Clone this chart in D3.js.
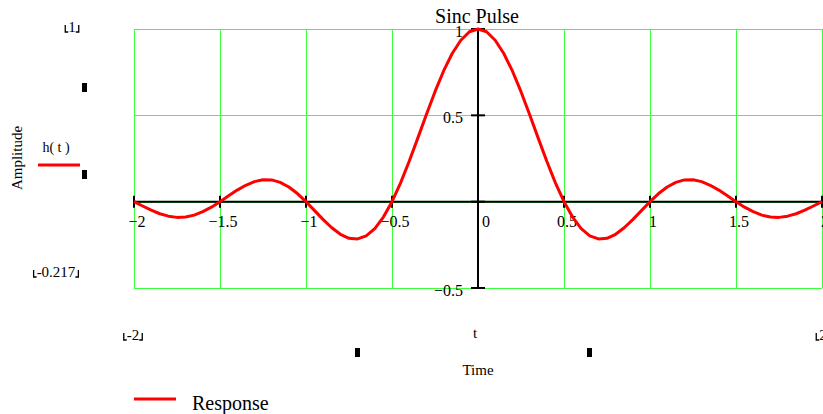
<!DOCTYPE html>
<html>
<head>
<meta charset="utf-8">
<script src="https://cdn.jsdelivr.net/npm/d3@7"></script>
<style>
  html, body { margin: 0; padding: 0; background: #fff; }
  svg { display: block; }
  text { font-family: "Liberation Serif", "Times New Roman", serif; fill: #000; }
</style>
</head>
<body>
<svg id="chart" width="823" height="414"></svg>
<script>
// Sampled response h(t) of the sinc pulse
const times = [
  -2, -1.95, -1.9, -1.85, -1.8, -1.75, -1.7, -1.65, -1.6, -1.55,
  -1.5, -1.45, -1.4, -1.35, -1.3, -1.25, -1.2, -1.15, -1.1, -1.05,
  -1, -0.95, -0.9, -0.85, -0.8, -0.75, -0.7, -0.65, -0.6, -0.55,
  -0.5, -0.45, -0.4, -0.35, -0.3, -0.25, -0.2, -0.15, -0.1, -0.05,
  0,
  0.05, 0.1, 0.15, 0.2, 0.25, 0.3, 0.35, 0.4, 0.45, 0.5,
  0.55, 0.6, 0.65, 0.7, 0.75, 0.8, 0.85, 0.9, 0.95, 1,
  1.05, 1.1, 1.15, 1.2, 1.25, 1.3, 1.35, 1.4, 1.45, 1.5,
  1.55, 1.6, 1.65, 1.7, 1.75, 1.8, 1.85, 1.9, 1.95, 2
];
const response = [
  0, -0.025, -0.049, -0.070, -0.084, -0.091, -0.089, -0.078, -0.058, -0.032,
  0, 0.034, 0.067, 0.095, 0.116, 0.127, 0.126, 0.112, 0.085, 0.047,
  0, -0.052, -0.104, -0.151, -0.189, -0.212, -0.216, -0.198, -0.156, -0.089,
  0, 0.109, 0.234, 0.368, 0.505, 0.637, 0.757, 0.858, 0.935, 0.984,
  1,
  0.984, 0.935, 0.858, 0.757, 0.637, 0.505, 0.368, 0.234, 0.109, 0,
  -0.089, -0.156, -0.198, -0.216, -0.212, -0.189, -0.151, -0.104, -0.052, 0,
  0.047, 0.085, 0.112, 0.126, 0.127, 0.116, 0.095, 0.067, 0.034, 0,
  -0.032, -0.058, -0.078, -0.089, -0.091, -0.084, -0.070, -0.049, -0.025, 0
];

const xTicks = [-2, -1.5, -1, -0.5, 0, 0.5, 1, 1.5, 2];
const xTickLabels = ["\u22122", "\u22121.5", "\u22121", "\u22120.5", "0", "0.5", "1", "1.5", "2"];
const yTicks = [-0.5, 0, 0.5, 1];
const yTickLabels = ["\u22120.5", "", "0.5", "1"];

const title = "Sinc Pulse";
const yTitle = "Amplitude";
const xTitle = "Time";
const traceName = "h( t )";
const xVar = "t";
const legendLabel = "Response";
const yRangeLabels = ["1", "-0.217"];
const xRangeLabels = ["-2", "2"];

const svg = d3.select("#chart");
const x = d3.scaleLinear().domain([-2, 2]).range([134, 822]);
const y = d3.scaleLinear().domain([-0.5, 1]).range([288, 29]);

const green = "#3bff3b";
const red = "#ff0000";

// grid
const grid = svg.append("g").attr("shape-rendering", "crispEdges");
grid.selectAll("line.vx").data(xTicks).join("line")
  .attr("x1", d => Math.round(x(d)) + 0.5).attr("x2", d => Math.round(x(d)) + 0.5)
  .attr("y1", y(1)).attr("y2", y(-0.5))
  .attr("stroke", green).attr("stroke-width", 1);
grid.selectAll("line.hy").data(yTicks).join("line")
  .attr("y1", d => Math.round(y(d)) + 0.5).attr("y2", d => Math.round(y(d)) + 0.5)
  .attr("x1", x(-2)).attr("x2", x(2))
  .attr("stroke", green).attr("stroke-width", 1);

// axes through the origin
const axes = svg.append("g");
axes.append("line")
  .attr("x1", x(-2)).attr("x2", x(2)).attr("y1", y(0)).attr("y2", y(0))
  .attr("stroke", "#000").attr("stroke-width", 2);
axes.append("line")
  .attr("x1", x(0)).attr("x2", x(0)).attr("y1", y(1)).attr("y2", y(-0.5))
  .attr("stroke", "#000").attr("stroke-width", 2);
axes.selectAll("line.tx").data(xTicks).join("line")
  .attr("x1", d => x(d)).attr("x2", d => x(d))
  .attr("y1", y(0) - 6).attr("y2", y(0) + 6)
  .attr("stroke", "#000").attr("stroke-width", 2);
axes.selectAll("line.ty").data(yTicks).join("line")
  .attr("x1", x(0) - 7).attr("x2", x(0) + 7)
  .attr("y1", d => y(d)).attr("y2", d => y(d))
  .attr("stroke", "#000").attr("stroke-width", 2);

// tick labels
axes.selectAll("text.xl").data(xTicks).join("text")
  .attr("x", d => x(d) + (d === 0 ? 8 : 3))
  .attr("y", y(0) + 25)
  .attr("text-anchor", "middle")
  .attr("font-size", 16)
  .text((d, i) => xTickLabels[i]);
axes.selectAll("text.yl").data(yTicks).join("text")
  .attr("x", x(0) - 15)
  .attr("y", d => y(d) + 8)
  .attr("text-anchor", "end")
  .attr("font-size", 16)
  .text((d, i) => yTickLabels[i]);

// trace
const line = d3.line().x((d, i) => x(times[i])).y(d => y(d));
svg.append("path")
  .datum(response)
  .attr("d", line)
  .attr("fill", "none")
  .attr("stroke", red)
  .attr("stroke-width", 3)
  .attr("stroke-linejoin", "round");

// title
svg.append("text").attr("x", 477).attr("y", 23).attr("text-anchor", "middle")
  .attr("font-size", 20).text(title);

// y-axis side annotations
svg.append("text").attr("transform", "translate(22,158) rotate(-90)")
  .attr("text-anchor", "middle").attr("font-size", 15).text(yTitle);
svg.append("text").attr("x", 56).attr("y", 152).attr("text-anchor", "middle")
  .attr("font-size", 14).text(traceName);
svg.append("line").attr("x1", 38).attr("x2", 80).attr("y1", 165).attr("y2", 165)
  .attr("stroke", red).attr("stroke-width", 3);

// bracketed range labels
function bracketed(cx, baseline, str, size) {
  const t = svg.append("text").attr("x", cx).attr("y", baseline)
    .attr("text-anchor", "middle").attr("font-size", size).text(str);
  const w = t.node().getComputedTextLength();
  const l = cx - w / 2 - 3, r = cx + w / 2 + 3;
  const top = baseline - 7, bot = baseline;
  svg.append("path")
    .attr("d", `M${l},${top}V${bot}H${l + 3}M${r},${top}V${bot}H${r - 3}`)
    .attr("fill", "none").attr("stroke", "#000").attr("stroke-width", 1.3);
}
bracketed(72, 32, yRangeLabels[0], 15);
bracketed(56, 277, yRangeLabels[1], 15);
bracketed(133, 340, xRangeLabels[0], 15);
bracketed(823, 340, xRangeLabels[1], 15);

// placeholder markers
const marks = [[82, 83], [82, 170], [355, 348], [587, 348]];
svg.selectAll("rect.mk").data(marks).join("rect")
  .attr("x", d => d[0]).attr("y", d => d[1]).attr("width", 5).attr("height", 9)
  .attr("fill", "#000");

// x-axis annotations
svg.append("text").attr("x", 475).attr("y", 338).attr("text-anchor", "middle")
  .attr("font-size", 15).text(xVar);
svg.append("text").attr("x", 478).attr("y", 375).attr("text-anchor", "middle")
  .attr("font-size", 15).text(xTitle);

// legend
svg.append("line").attr("x1", 134).attr("x2", 176).attr("y1", 399).attr("y2", 399)
  .attr("stroke", red).attr("stroke-width", 3);
svg.append("text").attr("x", 192).attr("y", 410).attr("font-size", 20).text(legendLabel);
</script>
</body>
</html>
